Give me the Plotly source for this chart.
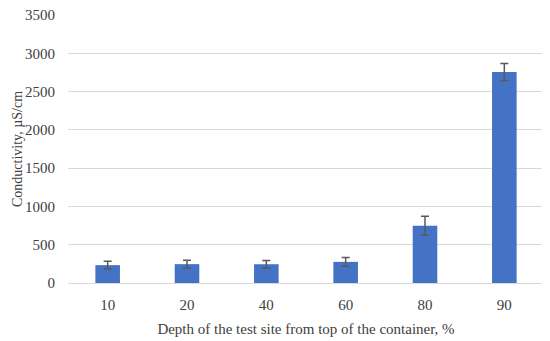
import plotly.graph_objects as go

categories = ["10", "20", "40", "60", "80", "90"]
conductivity = [233, 246, 245, 276, 747, 2756]
error = [50, 50, 50, 57, 125, 112]
y_title = "Conductivity, µS/cm"
x_title = "Depth of the test site from top of the container, %"

fig = go.Figure()
fig.add_trace(go.Bar(
    x=categories, y=conductivity,
    marker=dict(color="#4472C4", line=dict(width=0)),
    error_y=dict(type="data", array=error, color="#595959", thickness=1.5, width=4),
))

font = "Liberation Serif"
fs = 15
ml = 60
fig.update_layout(
    width=550, height=341,
    margin=dict(l=ml, r=14, t=7, b=66),
    paper_bgcolor="white", plot_bgcolor="white",
    bargap=0.69,
    showlegend=False,
    font=dict(family=font, size=fs, color="#404040"),
    xaxis=dict(
        type="category", automargin=False,
        showgrid=False,
        showline=True, linecolor="#d9d9d9", linewidth=1,
        ticks="", ticklabelstandoff=8,
        tickfont=dict(family=font, size=fs, color="#404040"),
        title=dict(text=x_title, standoff=11,
                   font=dict(family=font, size=fs, color="#404040")),
    ),
    yaxis=dict(
        range=[0, 3500], dtick=500, automargin=False,
        showgrid=True, gridcolor="#d9d9d9", gridwidth=1,
        zeroline=False, showline=False,
        ticks="", ticklabelstandoff=12, ticklabeloverflow="allow",
        tickfont=dict(family=font, size=fs, color="#404040"),
    ),
    annotations=[dict(
        text=y_title, textangle=-90,
        xref="paper", yref="paper", x=0, y=0.5,
        xanchor="center", yanchor="middle", xshift=-(ml - 9),
        showarrow=False, borderpad=0,
        font=dict(family=font, size=14, color="#404040"),
    )],
)

fig.write_html("out.html")
